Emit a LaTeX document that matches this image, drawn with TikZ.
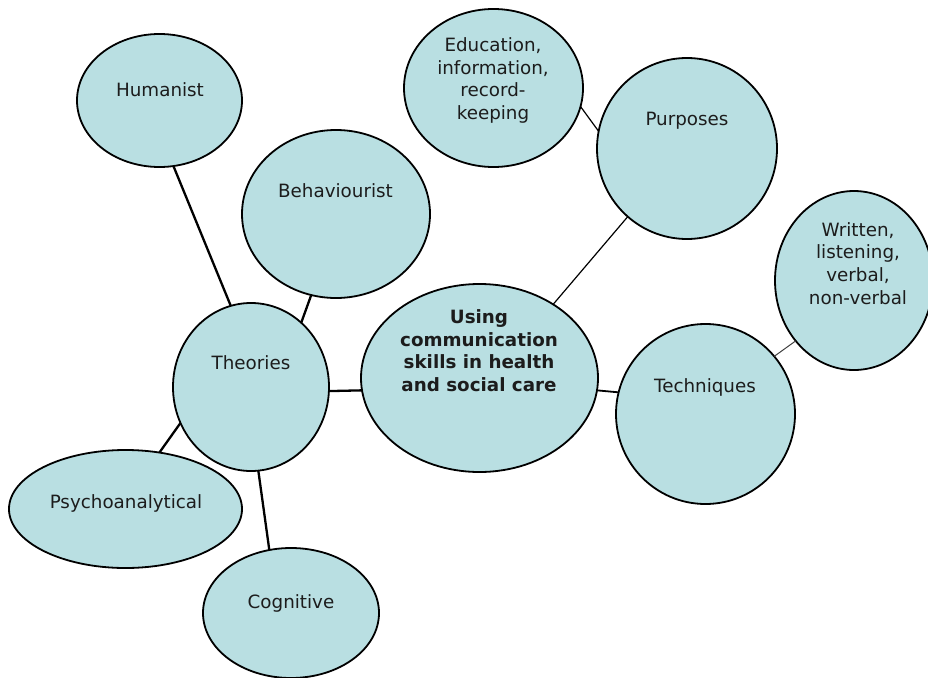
\documentclass[tikz,border=0pt]{standalone}
\usepackage{fontspec}
\setmainfont{DejaVu Sans}
\usetikzlibrary{shapes.geometric}
\definecolor{bubblefill}{RGB}{185,223,226}
\definecolor{txtcol}{RGB}{28,28,28}
\begin{document}
\begin{tikzpicture}[x=1pt,y=-1pt,
  bubble/.style={ellipse,draw=black,line width=1.8pt,fill=bubblefill,inner sep=0pt,outer sep=0pt},
  lbl/.style={text=txtcol,font=\fontsize{18.3}{22.7}\selectfont,align=center,inner sep=0pt},
  boldlbl/.style={lbl,font=\fontsize{18.3}{22.5}\selectfont\bfseries},
  thick link/.style={line width=2.3pt,draw=black},
  thin link/.style={line width=1.2pt,draw=black},
  faint link/.style={line width=1pt,draw=black!75}]
\useasboundingbox (0,0) rectangle (928,677);
\begin{scope}
\clip (0,0) rectangle (928,677);
% ellipses
\node[bubble,minimum width=165pt,minimum height=133pt] (hum) at (159.5,100.5) {};
\node[bubble,minimum width=188pt,minimum height=168pt] (beh) at (336,214) {};
\node[bubble,minimum width=179pt,minimum height=158pt] (edu) at (493.5,88) {};
\node[bubble,minimum width=180pt,minimum height=181pt] (pur) at (687,148.5) {};
\node[bubble,minimum width=158pt,minimum height=179pt] (wri) at (854,280.5) {};
\node[bubble,minimum width=156pt,minimum height=168pt] (the) at (251,387) {};
\node[bubble,minimum width=237pt,minimum height=188pt] (cen) at (479.5,378) {};
\node[bubble,minimum width=179pt,minimum height=180pt] (tec) at (705.5,414) {};
\node[bubble,minimum width=233pt,minimum height=118pt] (psy) at (125.5,509) {};
\node[bubble,minimum width=176pt,minimum height=130pt] (cog) at (291,613) {};
% connectors
\draw[thick link] (hum.-78.5) -- (the.104.4);
\draw[thick link] (beh.253.6) -- (the.52.4);
\draw[thick link] (the.-3.7) -- (cen.186.7);
\draw[thick link] (psy.59) -- (the.207.9);
\draw[thick link] (cog.109.2) -- (the.-85.9);
\draw[thin link] (cen.45.2) -- (pur.229.2);
\draw[thin link] (edu.-12) -- (pur.169.5);
\draw[thick link,line width=1.8pt] (cen.-6.7) -- (tec.166.2);
\draw[faint link] (tec.40.4) -- (wri.226.7);
% labels
\node[lbl] (humt) at (160,90) {Humanist};
\node[lbl] (beht) at (335.5,191) {Behaviourist};
\node[lbl] (edut) at (493,80.5) {Education,\\information,\\record-\\keeping};
\node[lbl] (purt) at (687,121) {Purposes};
\node[lbl] (writ) at (858,263.5) {Written,\\listening,\\verbal,\\non-verbal};
\node[lbl] (thet) at (251,363) {Theories};
\node[boldlbl] (cent) at (479,350.5) {Using\\communication\\skills in health\\and social care};
\node[lbl] (tect) at (705,387) {Techniques};
\node[lbl] (psyt) at (126,503) {Psychoanalytical};
\node[lbl] (cogt) at (291,603) {Cognitive};
\end{scope}
\end{tikzpicture}
\end{document}
